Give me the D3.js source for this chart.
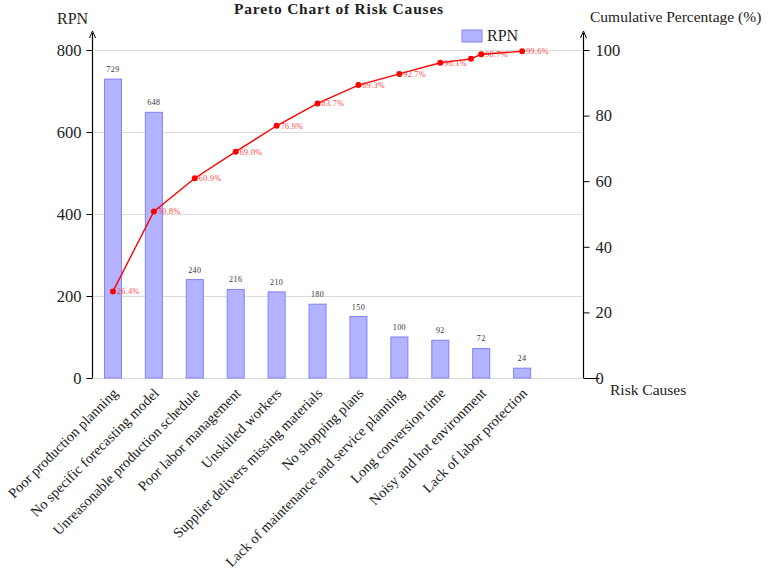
<!DOCTYPE html>
<html><head><meta charset="utf-8">
<script src="https://cdn.jsdelivr.net/npm/d3@7"></script>
<style>body{margin:0;background:#fff}svg{display:block}text{font-family:"Liberation Serif","DejaVu Serif",serif}</style>
</head><body><svg id="c" width="768" height="586"></svg>
<script>
const categories = ["Poor production planning","No specific forecasting model","Unreasonable production schedule","Poor labor management","Unskilled workers","Supplier delivers missing materials","No shopping plans","Lack of maintenance and service planning","Long conversion time","Noisy and hot environment","Lack of labor protection"];
const rpnValues = [729,648,240,216,210,180,150,100,92,72,24];
const cumPositions = [0,1,2,3,4,5,6,7,8,8.75,9,10];
const cumValues = [26.4,50.8,60.9,69.0,76.9,83.7,89.3,92.7,96.1,97.3,98.7,99.6];
const cumLabels = ["26.4%","50.8%","60.9%","69.0%","76.9%","83.7%","89.3%","92.7%","96.1%","","98.7%","99.6%"];
const leftTicks = [0,200,400,600,800];
const rightTicks = [0,20,40,60,80,100];

const svg = d3.select("#c");
const L = 92.5, R = 583.5, T = 50, B = 378;
const x = d3.scaleLinear().domain([-0.5, 11.5]).range([L, R]);
const y = d3.scaleLinear().domain([0, 800]).range([B, T]);
const y2 = d3.scaleLinear().domain([0, 100]).range([B, T]);

// grid
svg.append("g").selectAll("line").data(leftTicks).join("line")
  .attr("x1", L).attr("x2", R).attr("y1", d => y(d)+0.5).attr("y2", d => y(d)+0.5)
  .attr("stroke", "#dcdcdc").attr("stroke-width", 1);

// bars
const bw = 17;
svg.append("g").selectAll("rect").data(rpnValues).join("rect")
  .attr("x", (d,i) => x(i) - bw/2).attr("y", d => y(d))
  .attr("width", bw).attr("height", d => B - y(d))
  .attr("fill", "#b3b3ff").attr("stroke", "#8080ff").attr("stroke-width", 1);
svg.append("g").selectAll("text").data(rpnValues).join("text")
  .attr("x", (d,i) => x(i)).attr("y", d => y(d) - 7)
  .attr("text-anchor", "middle").attr("font-size", 8).attr("fill", "#333").attr("letter-spacing", 0.4)
  .text(d => d);

// left axis
const la = svg.append("g").attr("transform", `translate(${L},0)`)
  .call(d3.axisLeft(y).tickValues(leftTicks).tickSize(6).tickPadding(5));
la.select(".domain").remove();
la.selectAll(".tick line").attr("stroke", "#000");
la.selectAll(".tick text").attr("font-size", 16.5).attr("fill", "#222").attr("font-family", "Liberation Serif");
svg.append("line").attr("x1", L).attr("x2", L).attr("y1", B).attr("y2", 33).attr("stroke", "#000").attr("stroke-width", 1.2);
svg.append("path").attr("d", `M${L-3},38 L${L},31 L${L+3},38`).attr("fill", "none").attr("stroke", "#000").attr("stroke-width", 1);

// right axis
const ra = svg.append("g").attr("transform", `translate(${R},0)`)
  .call(d3.axisRight(y2).tickValues(rightTicks).tickSize(6).tickPadding(6));
ra.select(".domain").remove();
ra.selectAll(".tick line").attr("stroke", "#000");
ra.selectAll(".tick text").attr("font-size", 16.5).attr("fill", "#222").attr("font-family", "Liberation Serif");
ra.selectAll(".tick").filter(d => d === 0).select("line").attr("x2", 16);
ra.selectAll(".tick").filter(d => d === 0).select("text").attr("x", 12);
svg.append("line").attr("x1", R).attr("x2", R).attr("y1", B).attr("y2", 33).attr("stroke", "#000").attr("stroke-width", 1.2);
svg.append("path").attr("d", `M${R-3},38 L${R},31 L${R+3},38`).attr("fill", "none").attr("stroke", "#000").attr("stroke-width", 1);

// cumulative line
const pts = cumValues.map((v,i) => [x(cumPositions[i]), y2(v)]);
svg.append("path").attr("d", d3.line()(pts)).attr("fill", "none").attr("stroke", "#ff0000").attr("stroke-width", 1.4);
svg.append("g").selectAll("circle").data(pts).join("circle")
  .attr("cx", d => d[0]).attr("cy", d => d[1]).attr("r", 3).attr("fill", "#ff0000");
svg.append("g").selectAll("text").data(pts).join("text")
  .attr("x", d => d[0] + 4).attr("y", d => d[1] + 3)
  .attr("font-size", 8).attr("fill", "#ff4040").attr("letter-spacing", 0.4)
  .text((d,i) => cumLabels[i]);

// category labels
svg.append("g").selectAll("text").data(categories).join("text")
  .attr("transform", (d,i) => `translate(${x(i)+6},${B+16}) rotate(-45)`)
  .attr("text-anchor", "end").attr("font-size", 14.3).attr("fill", "#222").attr("letter-spacing", 0.1)
  .text(d => d);

// titles
svg.append("text").attr("x", 339).attr("y", 14).attr("text-anchor", "middle")
  .attr("font-size", 15.5).attr("font-weight", "bold").attr("fill", "#222").attr("letter-spacing", 0.8).text("Pareto Chart of Risk Causes");
svg.append("text").attr("x", 57).attr("y", 24).attr("font-size", 16).attr("fill", "#222").text("RPN");
svg.append("text").attr("x", 590).attr("y", 22).attr("font-size", 15.5).attr("fill", "#222").text("Cumulative Percentage (%)");
svg.append("text").attr("x", 610).attr("y", 395).attr("font-size", 15.5).attr("fill", "#222").text("Risk Causes");

// legend
svg.append("rect").attr("x", 462).attr("y", 30).attr("width", 20).attr("height", 12)
  .attr("fill", "#b3b3ff").attr("stroke", "#8080ff");
svg.append("text").attr("x", 487).attr("y", 41).attr("font-size", 16).attr("fill", "#222").text("RPN");
</script></body></html>
